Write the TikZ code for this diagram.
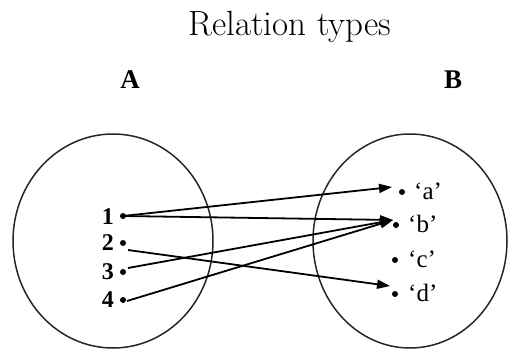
\documentclass[tikz,border=0pt]{standalone}
\usepackage{fontspec}
\setmainfont{Liberation Serif}
\newfontfamily\titlefont{Latin Modern Roman}
\usetikzlibrary{arrows.meta}
\tikzset{
  dot/.style={circle,fill=black,inner sep=0pt,minimum size=6pt},
  setcircle/.style={draw=black!85,line width=1.5pt},
  rel/.style={line width=1.8pt,-{Triangle[length=13pt,width=9pt]}},
  numlbl/.style={anchor=east,inner sep=0pt,font=\fontsize{24}{24}\selectfont\bfseries},
  letlbl/.style={anchor=west,inner sep=0pt,font=\fontsize{25}{25}\selectfont},
  setlbl/.style={inner sep=0pt,font=\fontsize{27}{27}\selectfont\bfseries}
}
\begin{document}
\begin{tikzpicture}[x=1pt,y=-1pt]
\useasboundingbox (0,0) rectangle (508,350);
\node[inner sep=0pt,font=\fontsize{35}{35}\selectfont\titlefont] (title) at (290,27) {Relation types};
\node[setlbl] (A) at (130,80) {A};
\node[setlbl] (B) at (453,80) {B};
\draw[setcircle] (113,241) ellipse [x radius=100, y radius=107];
\draw[setcircle] (410,241) ellipse [x radius=97, y radius=107];
% A points
\node[dot] (p1) at (123,216) {};
\node[dot] (p2) at (123,243) {};
\node[dot] (p3) at (123,272) {};
\node[dot] (p4) at (123,300) {};
\node[numlbl] (l1) at (114,217) {1};
\node[numlbl] (l2) at (114,243) {2};
\node[numlbl] (l3) at (114,272) {3};
\node[numlbl] (l4) at (114,300) {4};
% B points
\node[dot] (qa) at (402,192) {};
\node[dot] (qb) at (396,225) {};
\node[dot] (qc) at (395,260) {};
\node[dot] (qd) at (395,294) {};
\node[letlbl] (la) at (414,191) {‘a’};
\node[letlbl] (lb) at (408,224) {‘b’};
\node[letlbl] (lc) at (408,259) {‘c’};
\node[letlbl] (ld) at (408,293) {‘d’};
% arrow ends
\coordinate (ta) at (392,187);
\coordinate (tb) at (393,220);
\coordinate (td) at (390,286);
\coordinate (s2) at (128,250);
\coordinate (s3) at (128,268);
\coordinate (s4) at (127,301);
\draw[rel] (p1.center) -- (ta);
\draw[rel] (p1.center) -- (tb);
\draw[rel] (s3) -- (tb);
\draw[rel] (s4) -- (tb);
\draw[rel] (s2) -- (td);
\end{tikzpicture}
\end{document}
